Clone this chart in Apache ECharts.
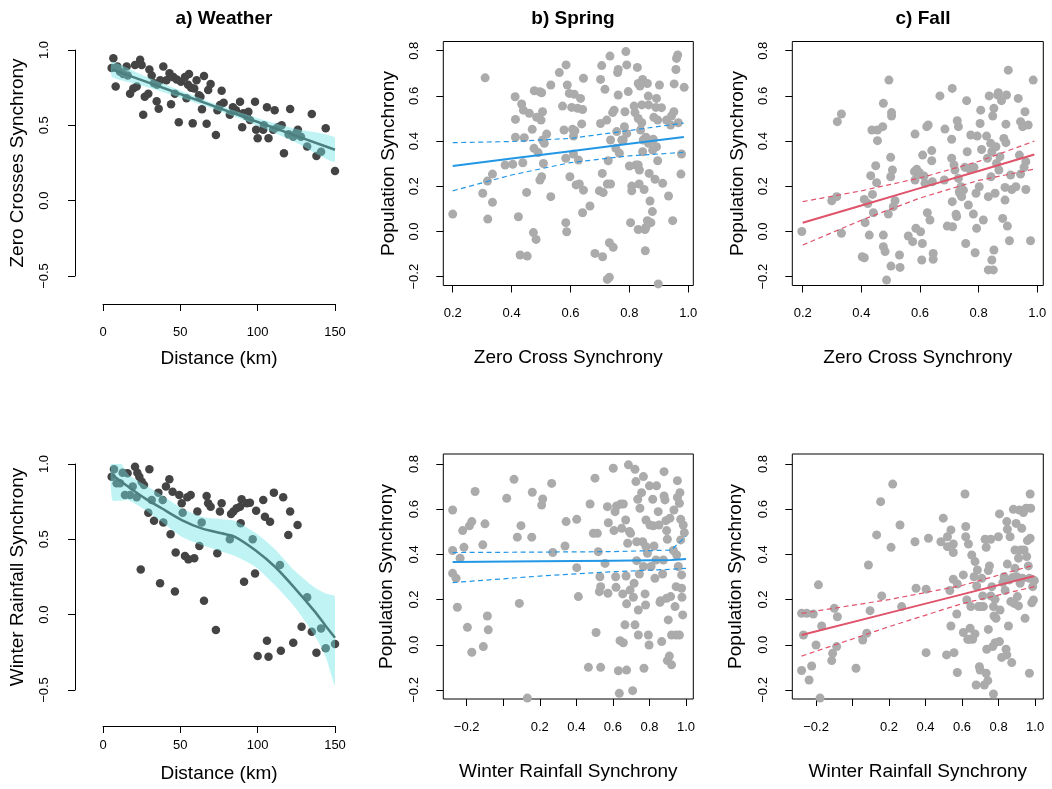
<!DOCTYPE html>
<html>
<head>
<meta charset="utf-8">
<title>Synchrony panels</title>
<script src="https://cdn.jsdelivr.net/npm/echarts/dist/echarts.min.js"></script>
<style>
  html, body { margin: 0; padding: 0; background: #fff; }
  #chart { width: 1052px; height: 789px; }
</style>
</head>
<body>
<div id="chart"></div>
<script>
// ---- tick values ----
const distTicks = [0, 50, 100, 150]
const weatherTicks = [-0.5, 0, 0.5, 1.0]
const popTicks = [-0.2, 0, 0.2, 0.4, 0.6, 0.8]
const zcTicks = [0.2, 0.4, 0.6, 0.8, 1.0]
const wrTicks = [-0.2, 0, 0.2, 0.4, 0.6, 0.8, 1.0]
const wrLabels = [-0.2, 0.2, 0.4, 0.6, 0.8, 1.0]

// ---- a) weather, zero crosses vs distance ----
const zcDistPts = [[6.7,0.945],[5.6,0.88],[8.2,0.757],[9.3,0.89],[11,0.856],[13,0.84],[15.3,0.89],[16,0.83],[17.5,0.71],[19.6,0.745],[21.8,0.757],[20.7,0.90],[24,0.935],[25,0.90],[26,0.57],[27,0.69],[29.3,0.71],[30,0.87],[31.5,0.83],[33,0.78],[34.7,0.66],[35,0.77],[36,0.61],[37,0.80],[39,0.89],[41,0.80],[43,0.845],[44,0.64],[45.5,0.82],[46.5,0.71],[47.6,0.805],[49,0.52],[50.4,0.79],[53,0.82],[54,0.68],[55.6,0.84],[55,0.77],[57,0.75],[58,0.513],[59,0.745],[60.5,0.80],[62,0.70],[63,0.69],[64,0.606],[65.3,0.827],[67,0.51],[68,0.735],[69.6,0.775],[73,0.436],[74,0.60],[76.7,0.73],[75.6,0.635],[78,0.65],[82,0.57],[84,0.62],[86,0.60],[88.6,0.657],[90,0.487],[90.7,0.58],[93,0.56],[94,0.59],[95,0.535],[98.3,0.657],[99,0.47],[100,0.414],[103.6,0.47],[104,0.50],[106,0.62],[107,0.414],[110,0.47],[111,0.60],[113,0.487],[115.5,0.50],[117,0.314],[120,0.44],[121,0.608],[123,0.425],[125,0.45],[126,0.47],[128,0.425],[132,0.36],[135,0.575],[138,0.296],[141,0.325],[144,0.48],[150,0.197]]
const zcDistFitX = [6, 25, 45, 65, 85, 105, 125, 150]
const zcDistFit = [0.87, 0.80, 0.726, 0.652, 0.578, 0.504, 0.43, 0.338]
const zcDistHi = [0.92, 0.835, 0.751, 0.672, 0.598, 0.532, 0.475, 0.418]
const zcDistLo = [0.82, 0.765, 0.701, 0.632, 0.558, 0.476, 0.385, 0.258]

// ---- a) weather, winter rainfall vs distance ----
const wrDistPts = [[5.6,0.916],[7.1,0.965],[8.8,0.872],[11,0.872],[12.7,0.942],[14.2,0.794],[15.9,0.938],[17.5,0.794],[19.2,0.85],[20.7,0.982],[21.8,0.779],[22.2,0.942],[23.5,0.916],[24.4,0.30],[25,0.883],[26.5,0.861],[29.3,0.677],[30,0.965],[31.5,0.761],[33,0.624],[35.8,0.81],[36.9,0.208],[38.6,0.761],[39,0.611],[40.7,0.85],[42.9,0.898],[43.7,0.533],[45,0.816],[46.5,0.153],[47,0.412],[49.3,0.794],[50.9,0.739],[51.5,0.677],[53,0.389],[54.5,0.779],[55.2,0.367],[56.7,0.794],[59,0.374],[61,0.684],[62.3,0.456],[63.8,0.611],[65.3,0.093],[67,0.788],[68,0.739],[69.6,0.717],[73,-0.102],[73.9,0.407],[75.6,0.684],[76.7,0.739],[82,0.50],[82.8,0.668],[84.3,0.684],[86.4,0.706],[88.6,0.717],[89,0.606],[89.6,0.766],[91.2,0.219],[93,0.739],[95,0.743],[96.8,0.50],[98.3,0.274],[99,0.69],[100,-0.274],[103.6,0.761],[104.7,0.65],[106,-0.173],[107,-0.279],[108,0.617],[110.5,0.81],[114.4,0.33],[115,-0.239],[116.5,0.779],[119.8,0.529],[121,0.684],[123,-0.186],[125.8,0.595],[128.4,-0.08],[132,0.115],[135,-0.113],[138,-0.252],[141,-0.091],[144,-0.223],[150,-0.195]]
const wrDistFitX = [6, 16.4, 27.2, 37.9, 50.9, 63.8, 76.7, 85.3, 98.3, 111.2, 124.1, 137, 144, 150]
const wrDistFit = [0.927, 0.849, 0.772, 0.706, 0.628, 0.573, 0.54, 0.517, 0.429, 0.318, 0.175, 0.02, -0.075, -0.153]
const wrDistHi = [1.09, 0.93, 0.86, 0.794, 0.706, 0.65, 0.633, 0.622, 0.545, 0.435, 0.29, 0.18, 0.14, 0.119]
const wrDistLo = [0.761, 0.76, 0.695, 0.617, 0.517, 0.462, 0.42, 0.39, 0.32, 0.195, 0.05, -0.14, -0.28, -0.467]

// ---- b) spring vs zero cross synchrony ----
const springZcPts = [[0.2,0.077],[0.31,0.68],[0.302,0.169],[0.319,0.055],[0.318,0.223],[0.335,0.129],[0.335,0.254],[0.378,0.294],[0.404,0.297],[0.412,0.596],[0.413,0.496],[0.413,0.417],[0.423,0.065],[0.429,-0.104],[0.438,0.304],[0.443,0.415],[0.434,0.564],[0.44,0.537],[0.451,0.173],[0.453,-0.109],[0.46,0.523],[0.47,0.452],[0.474,-0.005],[0.476,0.368],[0.483,-0.035],[0.477,0.623],[0.485,0.505],[0.49,0.349],[0.496,0.228],[0.5,0.493],[0.502,0.614],[0.496,0.618],[0.505,0.53],[0.505,0.405],[0.508,0.301],[0.502,0.242],[0.511,0.39],[0.519,0.431],[0.533,0.154],[0.533,0.648],[0.562,0.703],[0.573,0.555],[0.578,0.449],[0.585,0.737],[0.584,0.324],[0.584,0.039],[0.587,-0.001],[0.589,0.648],[0.596,0.611],[0.598,0.242],[0.604,0.549],[0.607,0.452],[0.61,0.422],[0.613,0.607],[0.61,0.343],[0.615,0.446],[0.619,0.206],[0.624,0.545],[0.627,0.316],[0.63,0.21],[0.634,0.589],[0.638,0.476],[0.644,0.678],[0.641,0.083],[0.641,0.54],[0.644,0.183],[0.666,0.113],[0.683,-0.097],[0.698,0.18],[0.702,0.673],[0.706,0.734],[0.708,0.257],[0.709,-0.112],[0.702,0.478],[0.711,0.172],[0.717,0.629],[0.723,0.493],[0.725,0.21],[0.728,0.313],[0.725,-0.212],[0.732,-0.203],[0.732,-0.05],[0.734,0.776],[0.736,0.21],[0.736,0.405],[0.743,0.526],[0.745,-0.07],[0.748,0.537],[0.754,0.368],[0.757,0.442],[0.76,0.703],[0.762,0.717],[0.762,0.604],[0.766,0.346],[0.774,0.405],[0.779,0.405],[0.783,0.464],[0.785,0.53],[0.788,0.796],[0.791,0.737],[0.791,0.434],[0.796,0.619],[0.8,0.29],[0.804,0.039],[0.808,0.201],[0.808,0.18],[0.816,0.555],[0.819,0.526],[0.822,0.294],[0.827,0.726],[0.83,0.655],[0.83,0.5],[0.83,0.294],[0.83,0.009],[0.833,0.21],[0.834,0.272],[0.836,0.644],[0.838,0.449],[0.842,0.481],[0.842,0.56],[0.845,0.353],[0.845,0.673],[0.847,0.405],[0.85,0.186],[0.853,0.009],[0.854,-0.085],[0.856,0.018],[0.856,0.417],[0.861,0.655],[0.861,0.048],[0.864,0.599],[0.865,0.56],[0.865,0.39],[0.867,0.257],[0.87,0.135],[0.873,0.039],[0.878,0.088],[0.879,0.36],[0.881,0.408],[0.883,0.505],[0.887,0.231],[0.89,0.549],[0.892,0.589],[0.892,0.375],[0.896,0.493],[0.896,0.313],[0.902,0.648],[0.898,-0.232],[0.909,0.548],[0.913,0.213],[0.926,0.493],[0.933,0.157],[0.94,0.471],[0.943,0.511],[0.947,0.048],[0.951,0.53],[0.952,0.653],[0.958,0.717],[0.96,0.766],[0.964,0.781],[0.966,0.481],[0.975,0.254],[0.977,0.343],[0.986,0.638]]
const springZcFitX = [0.2, 0.4, 0.6, 0.8, 0.985]
const springZcFit = [0.29, 0.323, 0.355, 0.388, 0.418]
const springZcHi = [0.393, 0.398, 0.412, 0.447, 0.48]
const springZcLo = [0.18, 0.25, 0.305, 0.335, 0.35]

// ---- c) fall vs zero cross synchrony ----
const fallZcPts = [[0.197,0.0],[0.299,0.136],[0.316,0.154],[0.318,0.486],[0.332,0.52],[0.332,-0.008],[0.403,-0.112],[0.41,-0.116],[0.41,0.142],[0.413,0.039],[0.422,0.124],[0.427,-0.016],[0.432,0.247],[0.436,0.449],[0.438,0.164],[0.441,0.083],[0.449,0.291],[0.452,0.216],[0.455,0.402],[0.455,0.449],[0.473,0.464],[0.475,0.567],[0.475,-0.016],[0.475,-0.067],[0.481,-0.089],[0.486,-0.215],[0.492,0.077],[0.494,0.67],[0.5,0.328],[0.5,0.242],[0.503,0.526],[0.503,0.511],[0.501,-0.153],[0.506,0.272],[0.509,0.11],[0.515,0.136],[0.53,-0.104],[0.532,-0.159],[0.56,-0.02],[0.575,-0.045],[0.581,0.265],[0.583,0.431],[0.583,0.228],[0.586,0.014],[0.589,0.275],[0.594,0.254],[0.598,0.26],[0.602,-0.001],[0.606,-0.126],[0.608,-0.053],[0.609,0.338],[0.614,0.245],[0.617,0.213],[0.623,0.464],[0.625,0.083],[0.628,0.471],[0.634,0.051],[0.64,0.358],[0.64,0.313],[0.642,0.22],[0.645,-0.123],[0.645,-0.097],[0.668,0.6],[0.683,0.228],[0.685,0.453],[0.693,0.024],[0.708,0.408],[0.708,0.324],[0.71,0.633],[0.71,0.132],[0.711,0.021],[0.716,0.294],[0.719,0.272],[0.723,0.076],[0.725,0.066],[0.727,0.49],[0.731,0.464],[0.731,0.235],[0.734,0.176],[0.736,0.169],[0.74,0.198],[0.742,0.154],[0.748,0.183],[0.753,0.284],[0.756,-0.053],[0.759,0.579],[0.761,0.353],[0.765,0.117],[0.77,0.275],[0.773,0.427],[0.782,0.077],[0.784,0.284],[0.788,-0.094],[0.791,0.169],[0.793,0.014],[0.795,0.422],[0.802,0.198],[0.805,0.478],[0.807,0.537],[0.81,0.363],[0.816,0.051],[0.827,0.422],[0.83,0.324],[0.833,0.154],[0.833,-0.17],[0.836,0.6],[0.841,0.39],[0.842,0.242],[0.845,0.353],[0.845,-0.126],[0.848,0.511],[0.85,-0.17],[0.852,0.545],[0.852,-0.082],[0.856,0.169],[0.859,0.375],[0.861,0.301],[0.865,0.604],[0.867,0.614],[0.869,0.272],[0.873,0.331],[0.878,0.579],[0.882,0.058],[0.886,0.412],[0.89,0.139],[0.89,0.195],[0.893,0.393],[0.893,0.475],[0.895,0.604],[0.898,0.024],[0.901,0.714],[0.905,-0.041],[0.909,0.25],[0.913,0.186],[0.927,0.198],[0.935,0.589],[0.939,0.338],[0.943,0.486],[0.943,0.254],[0.95,0.464],[0.955,0.284],[0.958,0.53],[0.961,0.309],[0.961,0.186],[0.969,0.471],[0.977,-0.041],[0.986,0.67]]
const fallZcFitX = [0.2, 0.4, 0.6, 0.8, 0.99]
const fallZcFit = [0.039, 0.115, 0.192, 0.268, 0.341]
const fallZcHi = [0.132, 0.18, 0.237, 0.31, 0.40]
const fallZcLo = [-0.06, 0.05, 0.148, 0.226, 0.276]

// ---- b) spring vs winter rainfall synchrony ----
const springWrPts = [[-0.277,0.596],[-0.277,0.417],[-0.277,0.316],[-0.258,0.294],[-0.251,0.166],[-0.236,0.383],[-0.222,0.505],[-0.215,0.431],[-0.196,0.077],[-0.185,0.526],[-0.172,0.545],[-0.172,-0.033],[-0.154,0.678],[-0.112,0.442],[-0.109,-0.008],[-0.1,0.535],[-0.087,0.127],[-0.082,0.066],[0.019,0.648],[0.059,0.732],[0.077,0.476],[0.088,0.183],[0.097,0.527],[0.132,-0.236],[0.156,0.476],[0.159,0.675],[0.21,0.618],[0.216,0.645],[0.265,0.714],[0.271,0.408],[0.338,0.437],[0.344,0.545],[0.402,0.341],[0.402,0.555],[0.411,0.213],[0.475,0.623],[0.493,0.493],[0.502,0.737],[0.508,0.054],[0.515,0.493],[0.52,0.412],[0.526,0.235],[0.529,0.301],[0.533,0.257],[0.533,-0.1],[0.557,0.36],[0.57,0.611],[0.573,0.228],[0.575,0.54],[0.466,-0.1],[0.602,0.781],[0.606,0.505],[0.612,0.589],[0.615,0.301],[0.617,0.254],[0.62,0.614],[0.63,-0.115],[0.635,-0.215],[0.639,0.018],[0.643,0.623],[0.648,0.515],[0.654,0.225],[0.657,0.623],[0.657,0.009],[0.666,0.088],[0.67,0.552],[0.672,0.304],[0.675,-0.112],[0.675,0.181],[0.681,0.449],[0.685,0.796],[0.69,0.501],[0.694,0.242],[0.697,0.493],[0.708,-0.203],[0.712,0.21],[0.716,0.272],[0.721,0.776],[0.721,0.088],[0.726,0.722],[0.73,0.456],[0.73,0.372],[0.736,0.644],[0.739,0.154],[0.739,0.043],[0.745,0.313],[0.748,0.604],[0.757,0.673],[0.763,0.456],[0.767,0.744],[0.767,0.346],[0.77,-0.104],[0.776,0.225],[0.779,0.176],[0.781,0.552],[0.781,0.434],[0.789,0.405],[0.794,0.043],[0.798,-0.001],[0.8,0.703],[0.803,0.53],[0.809,0.346],[0.818,0.644],[0.821,0.526],[0.825,0.437],[0.83,0.294],[0.836,0.375],[0.839,0.703],[0.848,0.589],[0.852,0.53],[0.858,0.188],[0.861,0.195],[0.867,0.014],[0.872,0.313],[0.876,0.375],[0.88,0.658],[0.88,0.766],[0.885,0.641],[0.89,0.549],[0.894,0.505],[0.894,0.206],[0.898,-0.07],[0.898,0.467],[0.903,0.11],[0.909,-0.05],[0.912,0.56],[0.916,0.213],[0.921,0.043],[0.921,-0.089],[0.931,0.417],[0.934,0.596],[0.94,0.169],[0.946,0.043],[0.946,0.257],[0.949,0.397],[0.953,0.726],[0.953,0.652],[0.958,0.346],[0.964,0.043],[0.964,0.626],[0.967,0.673],[0.971,0.555],[0.971,0.464],[0.976,0.309],[0.976,0.25],[0.978,0.21],[0.982,0.132],[0.985,0.53],[0.991,0.496]]
const springWrFitX = [-0.277, 0.2, 0.6, 0.92, 0.96, 1.0]
const springWrFit = [0.366, 0.369, 0.372, 0.375, 0.377, 0.379]
const springWrHi = [0.408, 0.41, 0.412, 0.419, 0.45, 0.48]
const springWrLo = [0.275, 0.304, 0.323, 0.334, 0.336, 0.338]

// ---- c) fall vs winter rainfall synchrony ----
const fallWrPts = [[-0.279,0.139],[-0.279,-0.114],[-0.269,0.043],[-0.251,0.139],[-0.238,-0.156],[-0.224,-0.094],[-0.215,0.136],[-0.2,-0.001],[-0.187,0.265],[-0.178,-0.236],[-0.169,0.083],[-0.114,-0.07],[-0.109,-0.038],[-0.1,0.161],[-0.087,-0.008],[-0.083,0.124],[0.019,-0.104],[0.056,0.021],[0.078,0.051],[0.087,0.353],[0.096,0.151],[0.132,0.486],[0.154,0.633],[0.16,0.216],[0.211,0.431],[0.22,0.711],[0.26,0.53],[0.269,0.169],[0.342,0.456],[0.348,0.25],[0.403,-0.035],[0.403,0.246],[0.416,0.471],[0.484,0.456],[0.497,0.56],[0.515,-0.045],[0.52,0.478],[0.52,0.434],[0.533,0.24],[0.539,0.083],[0.539,0.508],[0.552,0.408],[0.552,0.446],[0.552,0.29],[0.556,-0.035],[0.571,0.136],[0.574,0.269],[0.574,-0.123],[0.607,0.309],[0.607,0.054],[0.616,0.667],[0.62,0.523],[0.62,0.478],[0.626,0.198],[0.631,0.024],[0.635,0.446],[0.64,0.024],[0.644,0.073],[0.648,0.169],[0.653,0.397],[0.658,0.024],[0.666,0.301],[0.671,0.048],[0.671,0.368],[0.677,-0.178],[0.68,0.26],[0.684,0.331],[0.689,0.169],[0.695,-0.097],[0.699,-0.112],[0.702,0.169],[0.708,0.294],[0.713,0.216],[0.717,0.169],[0.722,-0.178],[0.726,0.467],[0.732,0.431],[0.732,-0.126],[0.735,-0.02],[0.741,-0.159],[0.744,0.068],[0.744,0.328],[0.75,0.349],[0.757,0.467],[0.757,0.216],[0.763,0.257],[0.768,-0.008],[0.772,0.169],[0.772,-0.218],[0.775,0.127],[0.781,0.201],[0.781,0.009],[0.786,0.117],[0.799,0.478],[0.805,0.579],[0.805,0.014],[0.808,0.154],[0.817,-0.056],[0.823,0.275],[0.83,0.301],[0.836,0.24],[0.841,-0.02],[0.845,0.545],[0.845,-0.045],[0.848,0.511],[0.848,0.357],[0.854,0.083],[0.859,0.287],[0.863,0.478],[0.867,0.191],[0.872,-0.079],[0.878,0.298],[0.881,0.599],[0.885,0.183],[0.89,0.419],[0.89,0.338],[0.896,0.537],[0.9,0.301],[0.903,0.213],[0.909,0.172],[0.909,0.383],[0.914,0.596],[0.918,0.272],[0.922,0.419],[0.927,0.515],[0.932,0.294],[0.936,0.585],[0.94,0.419],[0.945,0.117],[0.951,0.604],[0.954,0.39],[0.958,0.461],[0.963,0.349],[0.969,0.294],[0.969,-0.126],[0.973,0.667],[0.973,0.471],[0.976,0.604],[0.982,0.186],[0.987,0.257],[0.991,0.198],[0.996,0.284]]
const fallWrFitX = [-0.279, 0.2, 0.6, 0.996]
const fallWrFit = [0.043, 0.141, 0.223, 0.304]
const fallWrHi = [0.139, 0.2, 0.262, 0.353]
const fallWrLo = [-0.05, 0.08, 0.182, 0.257]

const FONT = 'Liberation Sans'
const DARK = '#444444'
const GREY = '#ababab'
const TEAL = '#4a8080'
const BAND = 'rgba(116,231,231,0.45)'
const BLUE = '#2297E6'
const RED = '#DF536B'

const fmt = v => (v < 0 ? '\u2212' : '') + Math.abs(v).toFixed(1)

const boxGrid = { show: true, borderColor: '#000', borderWidth: 1, backgroundColor: 'transparent' }
const grids = [
  { left: 103, top: 50, width: 232, height: 226 },
  Object.assign({ left: 443.3, top: 41.5, width: 250, height: 244 }, boxGrid),
  Object.assign({ left: 792.3, top: 41.5, width: 251, height: 244 }, boxGrid),
  { left: 103, top: 464, width: 232, height: 226 },
  Object.assign({ left: 443.3, top: 454, width: 250, height: 245 }, boxGrid),
  Object.assign({ left: 792.3, top: 454, width: 251, height: 245 }, boxGrid)
].map(g => Object.assign({ outerBoundsMode: 'none', containLabel: false }, g))

function makeAxis(o) {
  return {
    type: 'value',
    gridIndex: o.grid,
    position: o.position,
    min: o.min,
    max: o.max,
    offset: o.offset || 0,
    name: o.name,
    nameLocation: 'middle',
    nameGap: o.nameGap,
    nameTextStyle: { color: '#000', fontSize: 19, fontFamily: FONT },
    splitLine: { show: false },
    axisLine: { show: !!o.line, onZero: false, lineStyle: { color: '#000', width: 1 } },
    axisTick: { show: true, length: 7, lineStyle: { color: '#000', width: 1 }, customValues: o.ticks },
    axisLabel: {
      color: '#000', fontSize: 13, fontFamily: FONT,
      margin: o.margin, rotate: o.rotate || 0,
      customValues: o.labels || o.ticks,
      formatter: o.fmt || fmt
    }
  }
}

const xAxes = [
  makeAxis({ grid: 0, position: 'bottom', min: 0, max: 150, offset: 28, line: true, ticks: distTicks, fmt: v => String(v), margin: 22, name: 'Distance (km)', nameGap: 45 }),
  makeAxis({ grid: 1, position: 'bottom', min: 0.168, max: 1.017, ticks: zcTicks, margin: 21, name: 'Zero Cross Synchrony', nameGap: 63 }),
  makeAxis({ grid: 2, position: 'bottom', min: 0.1645, max: 1.0205, ticks: zcTicks, margin: 21, name: 'Zero Cross Synchrony', nameGap: 63 }),
  makeAxis({ grid: 3, position: 'bottom', min: 0, max: 150, offset: 36, line: true, ticks: distTicks, fmt: v => String(v), margin: 12.5, name: 'Distance (km)', nameGap: 38 }),
  makeAxis({ grid: 4, position: 'bottom', min: -0.328, max: 1.04, ticks: wrTicks, labels: wrLabels, margin: 22, name: 'Winter Rainfall Synchrony', nameGap: 63 }),
  makeAxis({ grid: 5, position: 'bottom', min: -0.33, max: 1.045, ticks: wrTicks, labels: wrLabels, margin: 22, name: 'Winter Rainfall Synchrony', nameGap: 63 })
]
const yAxes = [
  makeAxis({ grid: 0, position: 'left', min: -0.5, max: 1.0, offset: 28, line: true, ticks: weatherTicks, rotate: 90, margin: 24, name: 'Zero Crosses Synchrony', nameGap: 47.5 }),
  makeAxis({ grid: 1, position: 'left', min: -0.239, max: 0.8407, ticks: popTicks, rotate: 90, margin: 22, name: 'Population Synchrony', nameGap: 45.5 }),
  makeAxis({ grid: 2, position: 'left', min: -0.239, max: 0.8407, ticks: popTicks, rotate: 90, margin: 22, name: 'Population Synchrony', nameGap: 45.5 }),
  makeAxis({ grid: 3, position: 'left', min: -0.5, max: 1.0, offset: 28, line: true, ticks: weatherTicks, rotate: 90, margin: 24, name: 'Winter Rainfall Synchrony', nameGap: 47.5 }),
  makeAxis({ grid: 4, position: 'left', min: -0.24, max: 0.844, ticks: popTicks, rotate: 90, margin: 22, name: 'Population Synchrony', nameGap: 47 }),
  makeAxis({ grid: 5, position: 'left', min: -0.24, max: 0.844, ticks: popTicks, rotate: 90, margin: 22, name: 'Population Synchrony', nameGap: 47 })
]

const zip = (xs, ys) => xs.map((x, i) => [x, ys[i]])

function scatter(idx, pts, color) {
  return {
    type: 'scatter', xAxisIndex: idx, yAxisIndex: idx, data: pts,
    symbol: 'circle', symbolSize: idx === 0 || idx === 3 ? 8.5 : 9,
    itemStyle: { color: color, opacity: 1 }, clip: false, silent: true, z: 2
  }
}

function line(idx, xs, ys, color, width, dashed, smooth) {
  return {
    type: 'line', xAxisIndex: idx, yAxisIndex: idx, data: zip(xs, ys),
    symbol: 'none', smooth: smooth || false, silent: true, z: 4,
    lineStyle: { color: color, width: width, type: dashed ? [5, 3.5] : 'solid' }
  }
}

// confidence band drawn as one polygon through the axis scales
function band(idx, xs, lo, hi, clip) {
  return {
    type: 'custom', xAxisIndex: idx, yAxisIndex: idx, data: [[xs[0], lo[0]]],
    clip: clip, silent: true, z: 3,
    renderItem: (params, api) => {
      const pts = xs.map((x, i) => api.coord([x, hi[i]]))
      for (let i = xs.length - 1; i >= 0; i--) pts.push(api.coord([xs[i], lo[i]]))
      return { type: 'polygon', shape: { points: pts, smooth: 0.2 }, style: { fill: BAND } }
    }
  }
}

const series = [
  scatter(0, zcDistPts, DARK),
  band(0, zcDistFitX, zcDistLo, zcDistHi, true),
  line(0, zcDistFitX, zcDistFit, TEAL, 2.5),

  scatter(1, springZcPts, GREY),
  line(1, springZcFitX, springZcFit, BLUE, 2),
  line(1, springZcFitX, springZcHi, BLUE, 1.2, true),
  line(1, springZcFitX, springZcLo, BLUE, 1.2, true),

  scatter(2, fallZcPts, GREY),
  line(2, fallZcFitX, fallZcFit, RED, 2),
  line(2, fallZcFitX, fallZcHi, RED, 1.2, true),
  line(2, fallZcFitX, fallZcLo, RED, 1.2, true),

  scatter(3, wrDistPts, DARK),
  band(3, wrDistFitX, wrDistLo, wrDistHi, true),
  line(3, wrDistFitX, wrDistFit, TEAL, 2.5, false, 0.3),

  scatter(4, springWrPts, GREY),
  line(4, springWrFitX, springWrFit, BLUE, 2),
  line(4, springWrFitX, springWrHi, BLUE, 1.2, true),
  line(4, springWrFitX, springWrLo, BLUE, 1.2, true),

  scatter(5, fallWrPts, GREY),
  line(5, fallWrFitX, fallWrFit, RED, 2),
  line(5, fallWrFitX, fallWrHi, RED, 1.2, true),
  line(5, fallWrFitX, fallWrLo, RED, 1.2, true)
]

const titleStyle = { color: '#000', fontSize: 19, fontWeight: 'bold', fontFamily: FONT }
const titles = [
  { text: 'a) Weather', left: 219 },
  { text: 'b) Spring', left: 568 },
  { text: 'c) Fall', left: 918 }
].map(t => ({ text: t.text, left: t.left, top: 4, textAlign: 'center', textStyle: titleStyle }))

const chart = echarts.init(document.getElementById('chart'), null, { renderer: 'canvas' })
chart.setOption({
  animation: false,
  backgroundColor: '#fff',
  title: titles,
  grid: grids,
  xAxis: xAxes,
  yAxis: yAxes,
  series: series
})
</script>
</body>
</html>
